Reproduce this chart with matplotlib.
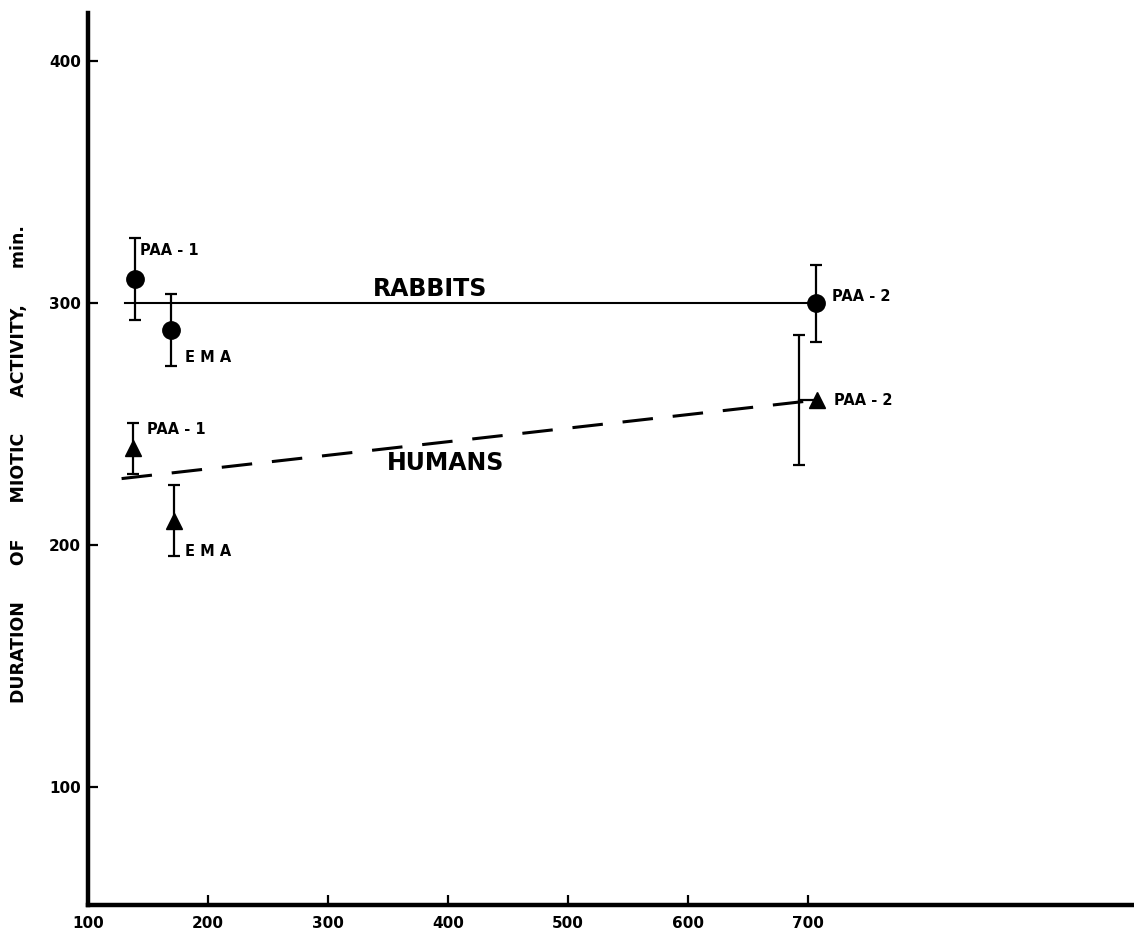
import matplotlib
matplotlib.use("Agg")
import matplotlib.pyplot as plt

# Dose (x) vs. duration of miotic activity (min)
rabbit_labels = ["PAA-1", "EMA", "PAA-2"]
rabbit_x = [139, 169, 707]
rabbit_y = [310, 289, 300]
rabbit_err = [17, 15, 16]

human_labels = ["PAA-1", "EMA", "PAA-2"]
human_x = [137.5, 171.5, 708]
human_y = [240, 210, 260]
human_err = [10.5, 14.7, 27]
human_err_x = [137.5, 171.5, 693]

# fitted trend lines
rabbit_line_x = [131, 707]
rabbit_line_y = [300, 300]
human_line_x = [128, 708]
human_line_y = [227.5, 260]

# label anchor positions (left edge, vertical centre)
rabbit_label_x = [143, 181, 720]
rabbit_label_y = [322, 277.5, 302.8]
human_label_x = [149, 181, 721.7]
human_label_y = [247.7, 197.4, 259.9]

x_ticks = [100, 200, 300, 400, 500, 600, 700]
y_ticks = [100, 200, 300, 400]

W, H = 1134, 931
fig = plt.figure(figsize=(W / 100, H / 100), dpi=100)
ax = fig.add_axes([88 / W, (H - 905) / H, 1 - 88 / W, (905 - 13) / H])

ax.set_xlim(100, 972)
ax.set_ylim(51.2, 420)

for s in ("top", "right"):
    ax.spines[s].set_visible(False)
for s in ("left", "bottom"):
    ax.spines[s].set_linewidth(3.2)
    ax.spines[s].set_capstyle("projecting")

ax.set_xticks(x_ticks)
ax.set_yticks(y_ticks)
ax.tick_params(direction="in", length=7, width=1.6, labelsize=11)
ax.tick_params(axis="x", pad=8)
ax.tick_params(axis="y", pad=5)
for lab in ax.get_xticklabels() + ax.get_yticklabels():
    lab.set_fontweight("bold")

bold = dict(fontweight="bold", color="black")

# Rabbits
ax.plot(rabbit_line_x, rabbit_line_y, color="black", lw=1.5, zorder=2)
ax.errorbar(rabbit_x, rabbit_y, yerr=rabbit_err, fmt="none", ecolor="black",
            elinewidth=1.6, capsize=4, capthick=1.6, zorder=3)
ax.plot(rabbit_x, rabbit_y, "o", color="black", ms=12.5, zorder=4)

# Humans
ax.plot(human_line_x, human_line_y, color="black", lw=2.2,
        dashes=(10, 6.5), zorder=2)
ax.errorbar(human_err_x, human_y, yerr=human_err, fmt="none", ecolor="black",
            elinewidth=1.6, capsize=4, capthick=1.6, zorder=3)
ax.plot([human_err_x[2], human_x[2]], [human_y[2], human_y[2]],
        color="black", lw=1.6, zorder=3)
ax.plot(human_x, human_y, "^", color="black", ms=11, zorder=4)


def point_label(s):
    return s.replace("-", " - ") if "-" in s else " ".join(s)


for lab, lx, ly in zip(rabbit_labels, rabbit_label_x, rabbit_label_y):
    ax.text(lx, ly, point_label(lab), ha="left", va="center",
            fontsize=10.5, **bold)
for lab, lx, ly in zip(human_labels, human_label_x, human_label_y):
    ax.text(lx, ly, point_label(lab), ha="left", va="center",
            fontsize=10.5, **bold)

ax.text(430 / 1.2 + 100 - 88 / 1.2, 301, "RABBITS", ha="center",
        va="bottom", fontsize=17, **bold)
ax.text(398, 234, "HUMANS", ha="center", va="center", fontsize=17, **bold)

fig.text(19 / W, 1 - 464 / H,
         "DURATION      OF      MIOTIC      ACTIVITY,      min.",
         rotation=90, ha="center", va="center", fontsize=12.5, **bold)

fig.savefig("out.png", dpi=100, facecolor="white")
